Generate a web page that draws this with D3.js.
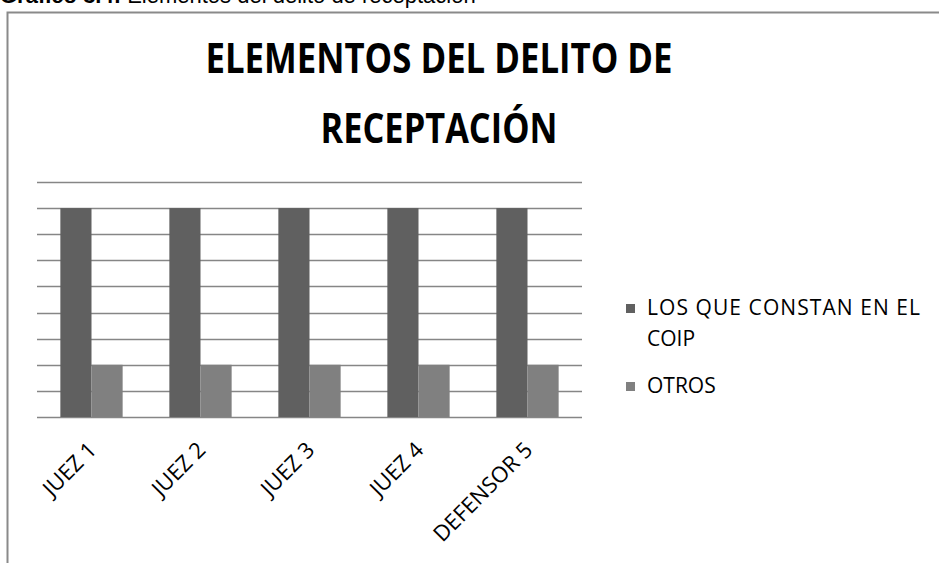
<!DOCTYPE html>
<html>
<head>
<meta charset="utf-8">
<script src="https://cdn.jsdelivr.net/npm/d3@7"></script>
<style>
  body { margin: 0; background: #fff; }
  text { font-family: "Open Sans", sans-serif; fill: #000; }
</style>
</head>
<body>
<div id="chart"></div>
<script>
var w = 939;
var h = 563;

// data
var categories = ["JUEZ 1", "JUEZ 2", "JUEZ 3", "JUEZ 4", "DEFENSOR 5"];
var coip = [8, 8, 8, 8, 8];
var otros = [2, 2, 2, 2, 2];
var seriesNames = ["LOS QUE CONSTAN EN EL", "COIP"]; // legend label, wrapped in 2 lines
var otrosName = "OTROS";
var gridTicks = [0, 1, 2, 3, 4, 5, 6, 7, 8, 9];

var colors = ["#606060", "#808080"];

var svg = d3.select("#chart")
            .append("svg")
            .attr("width", w)
            .attr("height", h);

// caption above the frame (mostly cut off)
var cap = svg.append("text")
    .attr("x", 0)
    .attr("y", 3)
    .style("font-family", "'Liberation Sans', Arial, sans-serif")
    .style("font-size", "22px");
cap.append("tspan").attr("font-weight", "bold").text("Gráfico 3.4: ");
cap.append("tspan").text("Elementos del delito de receptación");

// frame
svg.append("path")
    .attr("d", "M7.5," + h + "V12.5H" + w)
    .attr("fill", "none")
    .attr("stroke", "#8a8a8a")
    .attr("stroke-width", 2);

// title (squeezed to the width of the original narrow font)
var title = svg.append("text")
    .attr("text-anchor", "middle")
    .attr("font-weight", "bold")
    .style("font-size", "42px");
title.append("tspan").attr("x", 439).attr("y", 73)
    .attr("textLength", 467).attr("lengthAdjust", "spacingAndGlyphs")
    .text("ELEMENTOS DEL DELITO DE");
title.append("tspan").attr("x", 439).attr("y", 143)
    .attr("textLength", 237).attr("lengthAdjust", "spacingAndGlyphs")
    .text("RECEPTACIÓN");

var plotLeft = 37, plotRight = 582, plotTop = 182, plotBottom = 417;

var xScale = d3.scaleBand()
        .domain(categories)
        .range([plotLeft, plotRight]);

var inner = d3.scaleBand()
        .domain([0, 1])
        .range([0, xScale.bandwidth()])
        .paddingOuter(0.75);   // gap width 150%

var yScale = d3.scaleLinear()
        .domain([0, 9])
        .range([plotBottom, plotTop]);

// gridlines
svg.append("g")
    .selectAll("line")
    .data(gridTicks)
    .enter()
    .append("line")
    .attr("x1", plotLeft)
    .attr("x2", plotRight)
    .attr("y1", function (d) { return Math.round(yScale(d)) + 0.5; })
    .attr("y2", function (d) { return Math.round(yScale(d)) + 0.5; })
    .attr("stroke", "#868686")
    .attr("stroke-width", 1.3);

// bars
var series = [coip, otros];
series.forEach(function (vals, s) {
    svg.append("g")
        .selectAll("rect")
        .data(vals)
        .enter()
        .append("rect")
        .attr("x", function (d, i) { return xScale(categories[i]) + inner(s); })
        .attr("y", function (d) { return yScale(d); })
        .attr("width", inner.bandwidth())
        .attr("height", function (d) { return yScale(0) - yScale(d); })
        .attr("fill", colors[s]);
});

// category labels, rotated
svg.append("g")
    .selectAll("text")
    .data(categories)
    .enter()
    .append("text")
    .attr("transform", function (d) {
        return "translate(" + (xScale(d) + xScale.bandwidth() / 2 + 1) + "," + 446 + ") rotate(-45)";
    })
    .attr("text-anchor", "end")
    .attr("dy", "0.35em")
    .style("font-size", "22px")
    .text(function (d) { return d; });

// legend
var legend = svg.append("g");
legend.append("rect")
    .attr("x", 626).attr("y", 304).attr("width", 9).attr("height", 9)
    .attr("fill", colors[0]);
legend.append("text")
    .attr("x", 647).attr("y", 315)
    .attr("textLength", 273).attr("lengthAdjust", "spacing")
    .style("font-size", "21px")
    .text(seriesNames[0]);
legend.append("text")
    .attr("x", 647).attr("y", 346)
    .style("font-size", "21px")
    .text(seriesNames[1]);
legend.append("rect")
    .attr("x", 626).attr("y", 382).attr("width", 9).attr("height", 9)
    .attr("fill", colors[1]);
legend.append("text")
    .attr("x", 647).attr("y", 393)
    .style("font-size", "21px")
    .text(otrosName);
</script>
</body>
</html>
